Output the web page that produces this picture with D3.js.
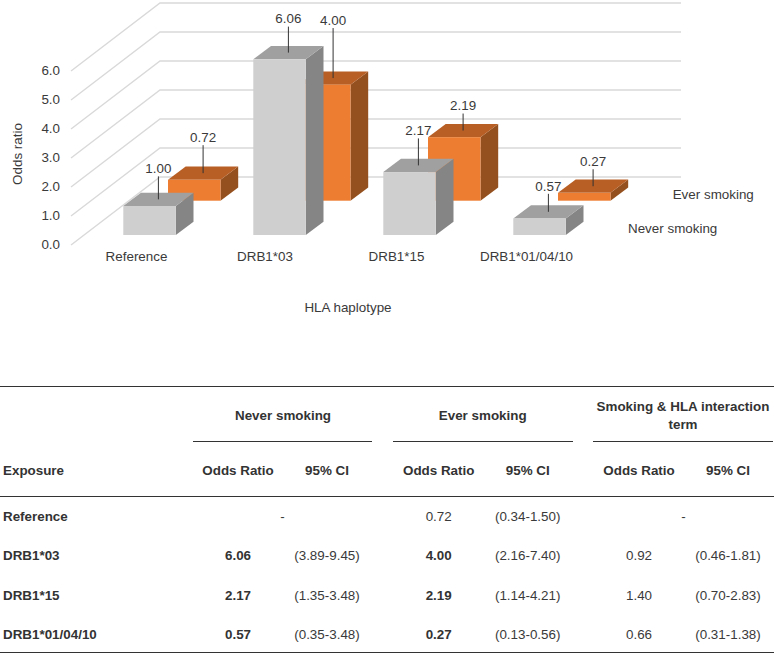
<!DOCTYPE html>
<html>
<head>
<meta charset="utf-8">
<script src="https://cdnjs.cloudflare.com/ajax/libs/d3/7.8.5/d3.min.js"></script>
<style>
html,body{margin:0;padding:0;background:#fff}
svg{display:block}
text{font-family:"Liberation Sans",Arial,sans-serif;font-size:13.4px;fill:#3a3a3a}
.b{font-weight:bold;fill:#333}
</style>
</head>
<body>
<svg id="c" width="774" height="653"></svg>
<script>
// ---- data ----
const categories = ["Reference","DRB1*03","DRB1*15","DRB1*01/04/10"];
const neverSmoking = [1.00,6.06,2.17,0.57];
const everSmoking = [0.72,4.00,2.19,0.27];
const axisTicks = [0,1,2,3,4,5,6];
const interactionOR = [null,0.92,1.40,0.66];
const neverCI = [null,"(3.89-9.45)","(1.35-3.48)","(0.35-3.48)"];
const everCI = ["(0.34-1.50)","(2.16-7.40)","(1.14-4.21)","(0.13-0.56)"];
const interactionCI = [null,"(0.46-1.81)","(0.70-2.83)","(0.31-1.38)"];
const everBold = [false,true,true,true];

// ---- layout ----
const neverLeader = [23,26,27,18];
const everLeader = [28,50,17,17];
const tickNudge = [0,-1.5,0,0];
const svg = d3.select("#c");
const height = d3.scaleLinear().domain([0,6]).range([0,174]);
const catX = d3.scalePoint().domain(categories).range([136,526]);
const barW = 52.5, depthX = 17.7, depthY = 13.3;
const wallFrontX = 71, wallBackX = 160, wallRightX = 681, floorFront = 245, floorBack = 177;
const line = d3.line();
const fontFamily = '"Liberation Sans",Arial,sans-serif';

// gridlines (side wall + back wall)
const grid = svg.append("g").attr("fill","none").attr("stroke","#d9d9d9").attr("stroke-width",1.4);
grid.selectAll("path").data(axisTicks).join("path")
  .attr("d",v=>line([[wallFrontX,floorFront-height(v)],[wallBackX,floorBack-height(v)],[wallRightX,floorBack-height(v)]]));

// y axis
const yAxisScale = d3.scaleLinear().domain([0,6]).range([floorFront-1,floorFront-1-174]);
const yAxis = svg.append("g").attr("transform","translate(60,0)")
  .call(d3.axisLeft(yAxisScale).tickValues(axisTicks).tickFormat(d3.format(".1f")).tickSize(0).tickPadding(0));
yAxis.select(".domain").remove();
yAxis.selectAll("text").style("font-size","13.4px").style("font-family",fontFamily);

// x axis
const xAxis = svg.append("g").attr("transform","translate(0,251)")
  .call(d3.axisBottom(catX).tickSize(0).tickPadding(0));
xAxis.select(".domain").remove();
xAxis.selectAll("text").style("font-size","13.4px").style("font-family",fontFamily).attr("dx",(d,i)=>tickNudge[i]);

// 3D bars
function bars(values, leaders, offsetX, baseY, cols, cls){
  const g = svg.append("g").attr("class",cls);
  values.forEach((v,i)=>{
    const x = catX(categories[i]) + offsetX, top = baseY - height(v);
    const b = g.append("g");
    b.append("path").attr("fill",cols.side).attr("d",line([[x+barW,top],[x+barW+depthX,top-depthY],[x+barW+depthX,baseY-depthY],[x+barW,baseY]])+"Z");
    b.append("path").attr("fill",cols.top).attr("d",line([[x,top],[x+depthX,top-depthY],[x+barW+depthX,top-depthY],[x+barW,top]])+"Z");
    b.append("rect").attr("x",x).attr("y",top).attr("width",barW).attr("height",height(v)).attr("fill",cols.front);
    const cx = x + (barW+depthX)/2, cy = top - depthY/2;
    b.append("line").attr("x1",cx).attr("x2",cx).attr("y1",cy).attr("y2",cy-leaders[i]).attr("stroke","#333").attr("stroke-width",1);
    b.append("text").attr("x",cx).attr("y",cy-leaders[i]-8).attr("dy","0.35em").attr("text-anchor","middle").text(d3.format(".2f")(v));
  });
}
const evC = {front:"#ed7d31",top:"#b85f25",side:"#95501f"};
const nvC = {front:"#d0cfd0",top:"#a0a0a0",side:"#858585"};
bars(everSmoking, everLeader, 32, 200.7, evC, "ever");
bars(neverSmoking, neverLeader, -12.7, 235, nvC, "never");

// labels
const label=(x,y,t,anchor,cls)=>svg.append("text").attr("x",x).attr("y",y).attr("dy","0.35em").attr("text-anchor",anchor||"middle").attr("class",cls||null).text(t);
label(348,307.5,"HLA haplotype");
label(672.7,194,"Ever smoking","start");
label(628,228,"Never smoking","start");
svg.append("text").attr("transform","translate(17,154) rotate(-90)").attr("dy","0.35em").attr("text-anchor","middle").text("Odds ratio");

// ---- table ----
const rule=(x1,x2,y)=>svg.append("line").attr("x1",x1).attr("x2",x2).attr("y1",y).attr("y2",y).attr("stroke","#333").attr("stroke-width",1);
rule(0,774,386.5); rule(0,774,496.5); rule(0,774,652.5);
const groupX = [[238,327],[438.7,527.7],[639,728]];
const groupRules = [[193,372],[393,573],[593,773]];
groupRules.forEach(r=>rule(r[0],r[1],441.5));
label(283,415,"Never smoking","middle","b");
label(482.7,415,"Ever smoking","middle","b");
label(683,406.7,"Smoking & HLA interaction","middle","b");
label(683,424,"term","middle","b");
label(3,470,"Exposure","start","b");
groupX.forEach(g=>{label(g[0],470,"Odds Ratio","middle","b");label(g[1],470,"95% CI","middle","b");});
const rowY = d3.scalePoint().domain(categories).range([516.7,634]);
const fmt = d3.format(".2f");
categories.forEach((c,i)=>{
  const y = rowY(c);
  label(3,y,c,"start","b");
  const cols=[[neverSmoking[i],neverCI[i],true,0],[everSmoking[i],everCI[i],everBold[i],1],[interactionOR[i],interactionCI[i],false,2]];
  cols.forEach(([or,ci,bold,k])=>{
    if(ci===null){ label((groupX[k][0]+groupX[k][1])/2,y,"-"); return; }
    label(groupX[k][0],y,fmt(or),"middle",bold?"b":null);
    label(groupX[k][1],y,ci);
  });
});
</script>
</body>
</html>
